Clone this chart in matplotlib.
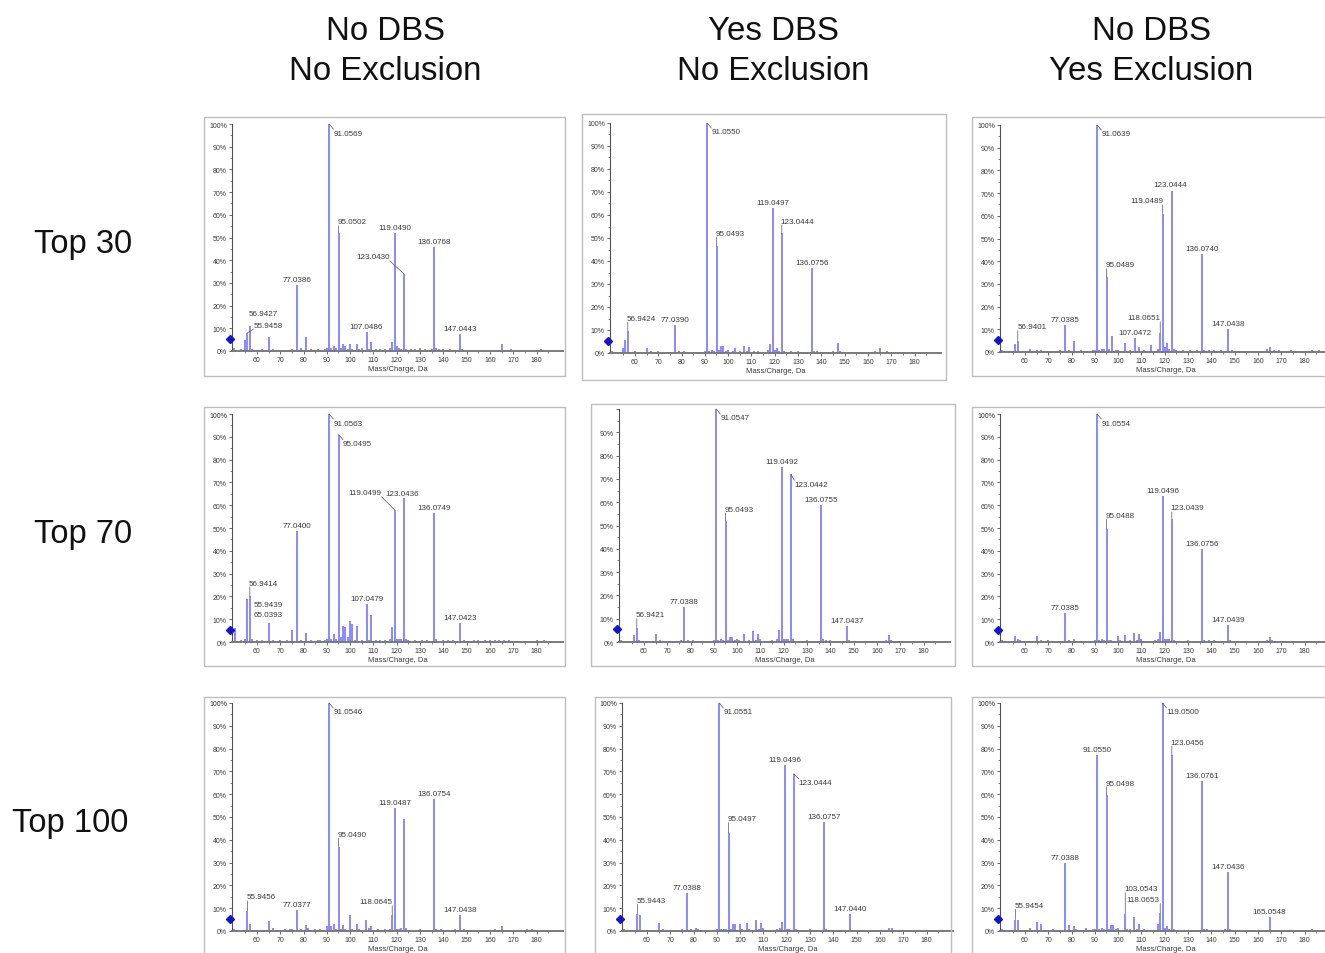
import matplotlib
matplotlib.use('Agg')
import matplotlib.pyplot as plt
import matplotlib.transforms as mtransforms
from matplotlib.patches import Rectangle

plt.rcParams['font.family'] = ['Liberation Sans', 'DejaVu Sans']

W, H = 1325, 954

# ---------------- text ----------------
col_titles = [('No DBS', 'No Exclusion'), ('Yes DBS', 'No Exclusion'), ('No DBS', 'Yes Exclusion')]
row_titles = ['Top 30', 'Top 70', 'Top 100']
x_label = 'Mass/Charge, Da'
x_ticks = [60, 70, 80, 90, 100, 110, 120, 130, 140, 150, 160, 170, 180]
y_ticks = [0, 10, 20, 30, 40, 50, 60, 70, 80, 90, 100]
x_range = (49.3, 191.3)

# ---------------- data (m/z, relative intensity %) ----------------
# Top 30 / No DBS / No Exclusion
mz_11 = [50.0, 53.0, 55.0, 55.9458, 56.9427, 58.0, 62.0, 65.04, 67.0, 69.0, 72.0, 75.0, 77.0386, 79.0, 81.03,
         83.0, 86.0, 89.0, 90.0, 91.0569, 92.0, 93.0, 94.0, 95.0502, 96.0, 97.0, 98.0, 99.0, 100.0, 101.0, 103.0,
         104.0, 105.0, 107.0486, 108.0, 109.0, 111.0, 113.0, 115.0, 117.0, 118.0, 119.0490, 120.0, 121.0, 122.0,
         123.0430, 124.0, 126.0, 128.0, 130.0, 132.0, 135.0, 136.0768, 137.0, 138.0, 140.0, 143.0, 147.0443, 148.0,
         150.0, 153.0, 158.0, 165.0, 169.0, 173.0, 177.0, 182.0, 186.0]
in_11 = [1.5, 0.8, 5.0, 8.0, 11.0, 1.0, 0.8, 6.0, 0.8, 0.6, 0.6, 1.0, 29.0, 1.2, 6.0,
         0.7, 0.7, 0.8, 1.5, 100.0, 1.5, 2.0, 1.5, 52.0, 1.5, 3.0, 2.0, 1.0, 3.0, 1.0, 3.0,
         1.0, 1.5, 8.5, 1.0, 4.0, 0.8, 1.0, 1.0, 1.5, 4.0, 52.0, 2.0, 1.5, 1.0,
         34.0, 1.0, 0.7, 0.8, 1.5, 0.7, 1.0, 46.0, 1.5, 1.0, 1.0, 0.7, 7.5, 1.0,
         0.6, 0.6, 0.6, 3.0, 1.0, 0.6, 0.6, 0.8, 0.6]
lab_11 = ['56.9427', '55.9458', '77.0386', '91.0569', '95.0502', '107.0486', '119.0490', '123.0430',
          '136.0768', '147.0443']

# Top 30 / Yes DBS / No Exclusion
mz_12 = [50.0, 55.0, 55.9, 56.9424, 60.0, 65.0, 67.0, 70.0, 74.0, 77.0390, 79.0, 81.0, 86.0, 90.0, 91.0550,
         92.0, 93.0, 94.0, 95.0493, 96.0, 97.0, 98.0, 99.0, 100.0, 102.0, 103.0, 105.0, 107.0, 108.0, 109.0,
         111.0, 113.0, 117.0, 118.0, 119.0497, 120.0, 121.0, 122.0, 123.0444, 124.0, 127.0, 130.0, 133.0,
         136.0756, 137.0, 138.0, 140.0, 145.0, 147.0, 148.0, 152.0, 158.0, 163.0, 165.0, 168.0, 175.0, 180.0, 186.0]
in_12 = [1.0, 2.0, 5.5, 9.7, 0.8, 2.0, 0.8, 0.7, 0.6, 12.0, 0.8, 1.0, 0.6, 1.0, 100.0,
         1.0, 1.5, 1.0, 46.5, 1.5, 3.0, 3.0, 1.0, 1.5, 1.0, 2.0, 1.0, 3.0, 1.0, 2.5,
         0.7, 0.7, 1.5, 4.0, 63.0, 1.5, 2.0, 1.0, 52.0, 1.0, 0.7, 0.8, 0.6,
         37.0, 1.0, 0.8, 0.6, 1.0, 4.5, 1.0, 0.6, 0.6, 0.8, 2.0, 0.7, 0.6, 0.6, 0.6]
lab_12 = ['56.9424', '77.0390', '91.0550', '95.0493', '119.0497', '123.0444', '136.0756']

# Top 30 / No DBS / Yes Exclusion
mz_13 = [50.0, 53.0, 55.9, 56.9401, 62.0, 65.0, 67.0, 72.0, 75.0, 77.0385, 79.0, 81.0, 84.0, 86.0, 89.0, 90.0,
         91.0639, 92.0, 93.0, 94.0, 95.0489, 96.0, 97.5, 99.0, 100.0, 103.0, 105.0, 107.0472, 109.0, 111.0,
         114.0, 117.0, 118.0651, 119.0489, 120.0, 121.0, 122.0, 123.0444, 124.0, 125.0, 128.0, 131.0, 134.0,
         136.0740, 137.0, 139.0, 141.0, 144.0, 147.0438, 149.0, 154.0, 158.0, 164.0, 165.0, 167.0, 169.0, 174.0,
         183.0, 186.0]
in_13 = [1.0, 0.6, 3.5, 5.0, 1.5, 1.0, 1.0, 0.6, 0.8, 12.0, 1.0, 5.0, 0.8, 0.6, 0.8, 1.0,
         100.0, 1.0, 1.5, 1.5, 33.0, 1.5, 7.0, 1.0, 1.0, 4.0, 1.0, 6.0, 2.0, 1.0,
         3.0, 1.5, 8.5, 61.0, 2.0, 4.0, 1.5, 71.0, 1.5, 1.0, 1.0, 0.7, 0.7,
         43.0, 1.0, 1.0, 0.8, 1.0, 10.0, 0.7, 0.6, 0.6, 1.5, 2.0, 1.0, 0.8, 0.8,
         0.8, 0.8]
lab_13 = ['56.9401', '77.0385', '91.0639', '95.0489', '107.0472', '118.0651', '119.0489', '123.0444',
          '136.0740', '147.0438']

# Top 70 / No DBS / No Exclusion
mz_21 = [50.4, 53.0, 55.0, 55.9439, 56.9414, 58.0, 60.0, 62.0, 65.0393, 67.0, 70.0, 73.0, 75.0, 77.0400, 79.0,
         81.0, 83.0, 86.0, 87.0, 89.0, 90.0, 91.0563, 92.0, 93.0, 94.0, 95.0495, 96.0, 97.0, 98.0, 99.0, 100.0,
         101.0, 102.0, 103.0, 105.0, 107.0479, 108.0, 109.0, 111.0, 113.0, 115.0, 117.0, 118.0, 119.0499, 120.0,
         121.0, 122.0, 123.0436, 124.0, 125.0, 128.0, 131.0, 133.0, 136.0749, 137.0, 140.0, 142.0, 144.0,
         147.0423, 149.0, 153.0, 155.0, 158.0, 160.0, 162.0, 164.0, 166.0, 168.0, 172.0, 176.0, 180.0, 183.0]
in_21 = [6.0, 0.8, 1.5, 19.0, 20.0, 1.5, 0.8, 0.7, 8.3, 1.0, 0.7, 0.8, 5.4, 48.5, 1.0,
         4.0, 1.0, 1.0, 1.0, 1.0, 1.5, 100.0, 1.5, 3.6, 1.5, 91.0, 2.0, 7.0, 6.5, 2.0, 9.0,
         8.0, 1.0, 7.0, 1.0, 16.8, 1.0, 11.7, 1.0, 1.0, 1.0, 1.5, 6.5, 58.0, 1.5,
         1.5, 1.5, 63.0, 1.5, 1.0, 0.8, 0.8, 0.8, 56.5, 1.5, 1.0, 1.0, 1.0,
         8.5, 0.8, 0.8, 0.8, 0.7, 0.8, 1.0, 1.0, 1.0, 0.8, 0.6, 0.6, 0.8, 0.8]
lab_21 = ['56.9414', '55.9439', '65.0393', '77.0400', '91.0563', '95.0495', '107.0479', '119.0499',
          '123.0436', '136.0749', '147.0423']

# Top 70 / Yes DBS / No Exclusion
mz_22 = [50.0, 53.0, 55.9, 56.9421, 58.0, 62.0, 65.0, 67.0, 70.0, 74.0, 76.0, 77.0388, 79.0, 81.0, 84.0, 88.0,
         90.0, 91.0547, 92.0, 93.0, 94.0, 95.0493, 96.0, 97.0, 98.0, 99.0, 100.0, 101.0, 103.0, 105.0, 107.0,
         108.0, 109.0, 110.0, 113.0, 115.0, 117.0, 118.0, 119.0492, 120.0, 121.0, 122.0, 123.0442, 124.0, 127.0,
         130.0, 133.0, 136.0755, 137.0, 138.0, 140.0, 143.0, 147.0437, 148.0, 152.0, 156.0, 160.0, 164.0, 165.0,
         166.0, 170.0, 174.0, 178.0, 182.0, 186.0]
in_22 = [1.0, 0.6, 3.0, 6.0, 1.0, 0.6, 3.6, 0.8, 0.6, 0.6, 0.8, 15.0, 0.8, 1.0, 0.6, 0.6,
         1.0, 100.0, 1.0, 1.5, 1.0, 52.0, 1.0, 2.0, 2.0, 1.0, 1.5, 1.0, 3.6, 1.0, 4.7,
         1.0, 3.3, 1.5, 0.6, 0.8, 1.5, 5.0, 75.0, 1.5, 1.5, 1.2, 72.0, 1.5, 0.6,
         0.8, 0.6, 59.0, 1.5, 1.0, 0.8, 0.6, 7.0, 0.8, 0.6, 0.6, 0.6, 1.0, 3.0,
         1.0, 0.6, 0.6, 0.6, 0.6, 0.6]
lab_22 = ['56.9421', '77.0388', '91.0547', '95.0493', '119.0492', '123.0442', '136.0755', '147.0437']

# Top 70 / No DBS / Yes Exclusion
mz_23 = [50.0, 53.0, 55.9, 56.9, 58.0, 62.0, 65.0, 67.0, 70.0, 75.0, 77.0385, 79.0, 81.0, 84.0, 88.0, 90.0,
         91.0554, 92.0, 93.0, 94.0, 95.0488, 96.0, 97.0, 100.0, 101.0, 103.0, 105.0, 107.0, 108.0, 109.0, 110.0,
         113.0, 116.0, 117.0, 118.0, 119.0496, 120.0, 121.0, 122.0, 123.0439, 124.0, 127.0, 130.0, 134.0,
         136.0756, 137.0, 139.0, 141.0, 147.0439, 148.0, 150.0, 154.0, 158.0, 164.0, 165.0, 166.0, 170.0, 175.0,
         178.0, 183.0]
in_23 = [1.0, 0.6, 2.6, 1.5, 0.8, 0.6, 2.8, 0.8, 0.8, 0.6, 12.7, 0.8, 1.5, 0.6, 0.6, 1.0,
         100.0, 1.0, 1.5, 1.0, 49.6, 1.0, 1.0, 2.5, 0.8, 3.0, 1.0, 4.0, 1.0, 3.4, 1.5,
         0.6, 1.0, 1.5, 4.4, 64.0, 1.5, 1.5, 1.5, 54.0, 1.0, 0.6, 0.8, 0.6,
         40.6, 1.0, 1.0, 0.8, 7.6, 0.8, 0.6, 0.6, 0.6, 1.0, 2.0, 1.0, 0.6, 0.6,
         0.6, 0.6]
lab_23 = ['77.0385', '91.0554', '95.0488', '119.0496', '123.0439', '136.0756', '147.0439']

# Top 100 / No DBS / No Exclusion
mz_31 = [50.0, 53.0, 55.9456, 56.9, 60.0, 65.0, 67.0, 72.0, 74.0, 75.0, 77.0377, 79.0, 81.0, 82.0, 85.0, 87.0,
         90.0, 91.0546, 92.0, 93.0, 94.0, 95.0490, 96.0, 97.0, 98.0, 100.0, 101.0, 103.0, 104.0, 107.0, 108.0,
         109.0, 112.0, 115.0, 117.0, 118.0645, 119.0487, 120.0, 121.0, 122.0, 123.0, 124.0, 127.0, 130.0, 133.0,
         136.0754, 137.0, 139.0, 141.0, 145.0, 147.0438, 149.0, 153.0, 158.0, 162.0, 165.0, 167.0, 172.0, 176.0,
         178.0, 183.0, 189.0]
in_31 = [1.0, 0.6, 8.8, 3.0, 0.6, 4.4, 1.5, 1.0, 1.0, 1.0, 9.0, 0.8, 2.5, 1.5, 0.8, 0.8,
         2.0, 100.0, 2.0, 3.0, 1.0, 37.0, 1.0, 2.5, 1.0, 7.0, 1.0, 3.0, 1.0, 5.0, 1.5,
         2.0, 0.8, 1.0, 1.0, 7.0, 54.0, 1.0, 1.0, 1.5, 49.0, 1.5, 0.6, 0.8, 0.6,
         58.0, 1.0, 0.8, 0.6, 0.8, 7.0, 0.8, 0.6, 0.6, 0.8, 2.0, 0.6, 0.6, 0.8,
         0.8, 0.6, 0.6]
lab_31 = ['55.9456', '77.0377', '91.0546', '95.0490', '118.0645', '119.0487', '136.0754', '147.0438']

# Top 100 / Yes DBS / No Exclusion
mz_32 = [50.0, 53.0, 55.9443, 56.9, 60.0, 65.0, 67.0, 70.0, 75.0, 77.0388, 79.0, 81.0, 82.0, 85.0, 90.0,
         91.0551, 92.0, 93.0, 94.0, 95.0497, 96.0, 97.0, 98.0, 100.0, 101.0, 103.0, 104.0, 107.0, 108.0, 109.0,
         110.0, 113.0, 116.0, 117.0, 118.0, 119.0496, 120.0, 121.0, 123.0444, 124.0, 127.0, 130.0, 133.0,
         136.0757, 137.0, 140.0, 144.0, 147.0440, 149.0, 152.0, 158.0, 164.0, 165.0, 170.0, 176.0, 181.0, 186.0]
in_32 = [1.0, 0.6, 7.6, 7.0, 0.6, 3.5, 1.0, 0.6, 0.8, 16.7, 1.0, 1.5, 1.0, 0.6, 1.0,
         100.0, 1.0, 1.0, 1.0, 43.0, 1.0, 3.0, 3.0, 3.0, 1.0, 3.5, 1.0, 5.0, 1.0, 3.5,
         1.5, 0.6, 0.8, 1.5, 4.0, 73.0, 1.0, 1.0, 69.0, 1.0, 0.6, 0.8, 0.6,
         48.0, 1.0, 0.6, 0.6, 7.6, 0.6, 0.6, 0.6, 1.5, 1.5, 0.6, 0.6, 0.6, 0.6]
lab_32 = ['55.9443', '77.0388', '91.0551', '95.0497', '119.0496', '123.0444', '136.0757', '147.0440']

# Top 100 / No DBS / Yes Exclusion
mz_33 = [50.0, 53.0, 55.9454, 56.9, 60.0, 62.0, 65.0, 67.0, 72.0, 74.0, 77.0388, 79.0, 81.0, 82.0, 86.0, 89.0,
         90.0, 91.0550, 92.0, 93.0, 94.0, 95.0498, 96.0, 97.0, 98.0, 99.0, 100.0, 103.0543, 104.0, 105.0, 107.0,
         108.0, 109.0, 111.0, 113.0, 117.0, 118.0653, 119.0500, 120.0, 121.0, 122.0, 123.0456, 124.0, 127.0,
         130.0, 136.0761, 137.0, 138.0, 141.0, 146.0, 147.0436, 148.0, 152.0, 158.0, 165.0548, 169.0, 174.0, 183.0]
in_33 = [1.0, 0.6, 5.0, 4.7, 0.6, 1.5, 4.0, 3.0, 1.0, 0.6, 30.0, 2.5, 2.0, 1.0, 1.5, 0.8,
         1.0, 77.0, 1.0, 1.5, 1.0, 59.5, 1.0, 2.5, 2.5, 1.0, 1.5, 7.6, 1.0, 1.0, 6.0,
         1.0, 3.0, 1.0, 0.6, 3.0, 8.0, 100.0, 1.5, 2.0, 1.0, 77.0, 1.0, 0.6,
         0.6, 66.0, 1.0, 0.8, 0.6, 0.8, 26.0, 1.0, 0.6, 0.6, 6.0, 0.6, 0.6, 0.8]
lab_33 = ['55.9454', '77.0388', '91.0550', '95.0498', '103.0543', '118.0653', '119.0500', '123.0456',
          '136.0761', '147.0436', '165.0548']

# ---------------- layout (pixels) ----------------
# axes: (y-axis x, 0% y, 100% y); frame: (x0, y0, x1, y1)
ax_geom = [[(232, 352, 125), (610, 354, 124), (1000, 353, 126)],
           [(232, 643, 415), (619, 643, 410), (1000, 643, 415)],
           [(232, 932, 704), (622, 932, 704), (1000, 932, 704)]]
frames = [[(204, 118, 565, 377), (582, 115, 946, 381), (972, 118, 1330, 377)],
          [(204, 408, 565, 667), (591, 405, 955, 667), (972, 408, 1330, 667)],
          [(204, 698, 565, 960), (595, 698, 951, 960), (972, 698, 1330, 960)]]
PX_PER_UNIT = 2.33

# label placement: text -> (ha, dx px, dy px, leader)
C = ('center', 0, 5.5, False)
DR = ('left', 4, -9, True)
TL = ('left', -1, 12.5, True)
place = [
    [{'56.9427': ('left', -1, 13, False), '55.9458': ('left', 6, 7.7, True), '91.0569': DR, '95.0502': ('left', -1, 11, True),
      '123.0430': ('right', -14, 17, True)},
     {'56.9424': TL, '91.0550': DR, '95.0493': ('left', -1, 13, True), '123.0444': ('left', -1, 12, True)},
     {'56.9401': ('left', 0, 14, True), '91.0639': DR, '95.0489': TL, '118.0651': ('right', 0.5, 15, True),
      '119.0489': ('right', 1, 12.7, True), '123.0444': ('center', -1.5, 6, False)}],
    [{'56.9414': ('left', -1, 13.3, True), '55.9439': ('left', 6, -6, False), '65.0393': ('center', 0, 8.5, False),
      '91.0563': DR, '95.0495': ('left', 4.5, -9.3, True), '119.0499': ('right', -13, 17, True),
      '123.0436': ('center', -1.5, 5, False)},
     {'56.9421': ('left', -1, 13.3, True), '91.0547': DR, '95.0493': ('left', -1, 11.7, True),
      '123.0442': ('left', 3.5, -10, True)},
     {'91.0554': DR, '95.0488': ('left', -1, 13.3, True), '123.0439': ('left', -1, 11, True)}],
    [{'55.9456': ('left', -1, 14, True), '91.0546': DR, '95.0490': ('left', -1, 12.3, True),
      '118.0645': ('right', 0.5, 13.3, True)},
     {'55.9443': ('left', -1, 13.3, True), '91.0551': DR, '95.0497': ('left', -1, 14.3, True),
      '123.0444': ('left', 5, -9.3, True)},
     {'55.9454': ('left', -1, 14.3, True), '95.0498': ('left', -1, 12.3, True), '103.0543': ('left', -1, 25, True),
      '118.0653': ('right', -1, 13.3, True), '119.0500': DR, '123.0456': ('left', -1, 13.3, True)}],
]

data = [[(mz_11, in_11, lab_11), (mz_12, in_12, lab_12), (mz_13, in_13, lab_13)],
        [(mz_21, in_21, lab_21), (mz_22, in_22, lab_22), (mz_23, in_23, lab_23)],
        [(mz_31, in_31, lab_31), (mz_32, in_32, lab_32), (mz_33, in_33, lab_33)]]

PEAK_COLOR = '#6a6aff'
TXT = '#3a3a3a'

fig = plt.figure(figsize=(W / 100, H / 100), dpi=100)
fig.patch.set_facecolor('white')


def px2pt(v):
    return v * 0.72


for r in range(3):
    for c in range(3):
        fx0, fy0, fx1, fy1 = frames[r][c]
        fig.add_artist(Rectangle((fx0 / W, 1 - fy1 / H), (fx1 - fx0) / W, (fy1 - fy0) / H,
                                 transform=fig.transFigure, fill=False, ec='#bdbdbd', lw=1.0))
        xl, y0, y100 = ax_geom[r][c]
        width_px = (x_range[1] - x_range[0]) * PX_PER_UNIT
        ax = fig.add_axes([xl / W, 1 - y0 / H, width_px / W, (y0 - y100) / H])
        ax.set_xlim(*x_range)
        ax.set_ylim(0, 100)
        ax.patch.set_alpha(0)
        mz, inten, labs = data[r][c]
        ax.vlines(mz, 0, inten, color=PEAK_COLOR, lw=1.1)
        for s in ['top', 'right']:
            ax.spines[s].set_visible(False)
        ax.spines['left'].set_color('#505050')
        ax.spines['left'].set_linewidth(0.8)
        ax.spines['bottom'].set_color('#7a7a7a')
        ax.spines['bottom'].set_linewidth(1.4)
        ax.set_xticks(x_ticks)
        ax.set_xticklabels([str(t) for t in x_ticks])
        ax.set_yticks(y_ticks)
        ylabels = ['%d%%' % t for t in y_ticks]
        if r == 1 and c == 1:
            ylabels[-1] = ''
        ax.set_yticklabels(ylabels)
        ax.set_xticks([t + 5 for t in x_ticks[:-1]] + [55, 185], minor=True)
        ax.set_yticks([t + 5 for t in y_ticks[:-1]], minor=True)
        ax.tick_params(axis='both', which='major', length=2.2, width=0.6, color='#505050',
                       labelsize=5, labelcolor=TXT, pad=1.5)
        ax.tick_params(axis='both', which='minor', length=1.2, width=0.5, color='#505050')
        ax.set_xlabel(x_label, fontsize=5.5, color=TXT, labelpad=1.5)
        # threshold marker on the y-axis
        tr = mtransforms.blended_transform_factory(ax.transAxes, ax.transData)
        ax.plot([-0.006], [5.4], marker='D', ms=4, color='#1414c8', transform=tr, clip_on=False, zorder=5)
        # peak labels
        for lab in labs:
            x = float(lab)
            y = inten[mz.index(x)] if x in mz else 0
            ha, dx, dy, leader = place[r][c].get(lab, C)
            ax.annotate(lab, xy=(x, y), xytext=(px2pt(dx), px2pt(dy)), textcoords='offset points',
                        ha=ha, va='center', fontsize=5.8, color=TXT, annotation_clip=False)
            if leader:
                ex = 0 if abs(dx) < 2 else dx
                ey = dy - 4 if dy > 0 else dy + 4
                ax.annotate('', xy=(x, y), xytext=(px2pt(ex), px2pt(ey)), textcoords='offset points',
                            annotation_clip=False,
                            arrowprops=dict(arrowstyle='-', color='#555555', lw=0.5, shrinkA=0, shrinkB=0))

# column and row titles
col_x = [385, 773, 1151]
for x, (t1, t2) in zip(col_x, col_titles):
    fig.text(x / W, 1 - 31 / H, t1, ha='center', va='center', fontsize=23.8, color='#111111')
    fig.text(x / W, 1 - 71 / H, t2, ha='center', va='center', fontsize=23.8, color='#111111')
row_pos = [(83, 245), (83, 534), (70, 824)]
for (x, y), t in zip(row_pos, row_titles):
    fig.text(x / W, 1 - y / H, t, ha='center', va='center', fontsize=23.5, color='#111111')

fig.savefig('out.png', dpi=100)
